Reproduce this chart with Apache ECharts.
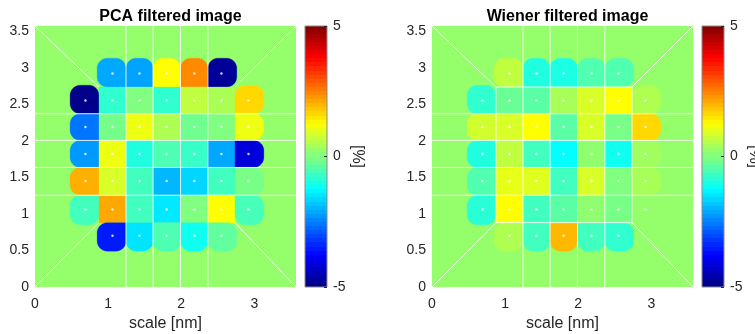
<!DOCTYPE html>
<html><head><meta charset="utf-8">
<script src="https://cdn.jsdelivr.net/npm/echarts@6/dist/echarts.min.js"></script>
<style>html,body{margin:0;padding:0;background:#fff}#c{width:755px;height:334px}</style>
</head><body><div id="c"></div>
<script>
// ---- data ----
const titles = ['PCA filtered image', 'Wiener filtered image'];
const xLabel = 'scale [nm]';
const cbarLabel = '[%]';
const xs = [0.69, 1.06, 1.43, 1.80, 2.18, 2.55, 2.92];          // cell centre x (left->right)
const ysTop = [2.92, 2.55, 2.19, 1.82, 1.45, 1.06, 0.70];       // cell centre y (top->bottom)
const axisMax = 3.57;
const cMin = -5, cMax = 5;
const backgroundValue = 0.2;
const pcaRows = [
  [null, -2.1, -2.15, 1.25, 2.4, -4.75, null],
  [-4.9, -0.78, 0.0, -0.78, 0.62, 0.42, 1.63],
  [-2.6, -0.1, 1.08, 0.45, -0.15, 0.0, 1.08],
  [-2.25, 1.08, -0.95, -0.5, -0.7, -2.1, -4.1],
  [2.03, 0.87, -0.62, -1.95, -1.65, -0.62, -0.07],
  [-0.6, 2.1, -0.62, -1.47, 0.0, 1.25, -0.55],
  [null, -3.5, -1.5, -0.5, -1.1, -0.3, null]
];
const wienerRows = [
  [null, 0.62, -0.95, -1.0, -0.47, -0.47, null],
  [-0.78, -0.22, -0.37, 0.4, 0.87, 1.25, 0.47],
  [0.8, 0.87, 1.25, -0.37, 0.87, -0.07, 1.63],
  [-0.95, 0.63, -0.62, -1.25, 0.16, -1.1, 0.32],
  [-0.47, 1.02, 0.95, -0.62, 0.87, 0.0, 0.4],
  [-0.85, 1.25, -0.62, -0.37, 0.16, -0.07, 0.2],
  [null, 0.47, -0.62, 1.95, -0.62, -0.78, null]
];

// ---- helpers (style) ----
function clamp01(a){ return Math.max(0, Math.min(1, a)); }
function jetRGB(t){
  t = clamp01(t);
  return [clamp01(1.5-Math.abs(4*t-3)), clamp01(1.5-Math.abs(4*t-2)), clamp01(1.5-Math.abs(4*t-1))];
}
function toCss(c){ return 'rgb(' + c.map(x=>Math.round(x*255)).join(',') + ')'; }
function jet(v){ return toCss(jetRGB((v - cMin)/(cMax - cMin))); }
function jetBarGradient(){
  const n = 64, stops = [];
  for (let i = 0; i < n; i++) {
    const col = toCss(jetRGB((i + 0.5)/n));
    stops.push({offset: i/n, color: col});
    stops.push({offset: (i+1)/n, color: col});
  }
  return {type:'linear', x:0, y:1, x2:0, y2:0, colorStops: stops};
}

const FONT = "'Liberation Sans', Arial, Helvetica, sans-serif";
const TXT = '#262626';
const EDGE = 0.21, RC = 0.14;

function cellSeries(rows, gi){
  const data = [];
  rows.forEach((row, r) => row.forEach((v, c) => { if (v !== null) data.push([xs[c], ysTop[r], v, c, r]); }));
  const has = (r, c) => r >= 0 && r < rows.length && c >= 0 && c < rows[r].length && rows[r][c] !== null;
  return {
    type: 'custom', xAxisIndex: gi, yAxisIndex: gi, clip: true, silent: true,
    encode: {x: 0, y: 1},
    data: data,
    renderItem: function(params, api){
      const cx = api.value(0), cy = api.value(1), v = api.value(2), c = api.value(3), r = api.value(4);
      const hL = has(r, c-1), hR = has(r, c+1), hU = has(r-1, c), hD = has(r+1, c);
      const lw = hL ? (cx - xs[c-1])/2 : EDGE, rw = hR ? (xs[c+1] - cx)/2 : EDGE;
      const uh = hU ? (ysTop[r-1] - cy)/2 : EDGE, dh = hD ? (cy - ysTop[r+1])/2 : EDGE;
      const corners = [
        [cx + rw, cy + uh, 1, 1, !(hR && hU)],
        [cx - lw, cy + uh, -1, 1, !(hL && hU)],
        [cx - lw, cy - dh, -1, -1, !(hL && hD)],
        [cx + rw, cy - dh, 1, -1, !(hR && hD)]
      ];
      const startAng = [0, Math.PI/2, Math.PI, 1.5*Math.PI];
      const pts = [];
      corners.forEach((k, idx) => {
        if (!k[4]) { pts.push(api.coord([k[0], k[1]])); return; }
        const ox = k[0] - k[2]*RC, oy = k[1] - k[3]*RC;
        for (let s = 0; s <= 14; s++) {
          const a = startAng[idx] + (Math.PI/2)*s/14;
          pts.push(api.coord([ox + RC*Math.cos(a), oy + RC*Math.sin(a)]));
        }
      });
      return {type: 'polygon', shape: {points: pts}, style: {fill: jet(v), stroke: jet(v), lineWidth: 0.3}};
    }
  };
}

function dotSeries(rows, gi){
  const data = [];
  rows.forEach((row, r) => row.forEach((v, c) => { if (v !== null) data.push([xs[c], ysTop[r]]); }));
  return {type: 'scatter', xAxisIndex: gi, yAxisIndex: gi, data: data, symbolSize: 2.5, silent: true,
          itemStyle: {color: '#ffffff'}, z: 4};
}

function meshSeries(gi, withInnerBox){
  const ysB = ysTop.slice().reverse();
  const mx = [], my = [];
  for (let i = 0; i < xs.length - 1; i++) { mx.push((xs[i] + xs[i+1])/2); my.push((ysB[i] + ysB[i+1])/2); }
  const segs = [];
  for (let i = 1; i < mx.length - 1; i++) {
    segs.push([mx[i], 0, mx[i], axisMax]);
    segs.push([0, my[i], axisMax, my[i]]);
  }
  const L = mx[0], Rr = mx[mx.length-1], B = my[0], T = my[my.length-1];
  segs.push([0, 0, L, B]);
  segs.push([0, axisMax, L, T]);
  segs.push([axisMax, axisMax, Rr, T]);
  segs.push([axisMax, 0, Rr, B]);
  if (withInnerBox) {
    segs.push([L, B, L, T]); segs.push([Rr, B, Rr, T]);
    segs.push([L, T, Rr, T]); segs.push([L, B, Rr, B]);
  }
  return {
    type: 'custom', xAxisIndex: gi, yAxisIndex: gi, clip: true, silent: true, z: 3,
    encode: {x: [0, 2], y: [1, 3]},
    data: segs,
    renderItem: function(params, api){
      const p1 = api.coord([api.value(0), api.value(1)]), p2 = api.coord([api.value(2), api.value(3)]);
      return {type: 'line', shape: {x1: p1[0], y1: p1[1], x2: p2[0], y2: p2[1]},
              style: {stroke: 'rgba(255,255,255,0.85)', lineWidth: 1}};
    }
  };
}

const plotLefts = [35, 432];
const cbarLefts = [305, 702];
const TOP = 26, SIZE = 261;

const grids = [], xAxes = [], yAxes = [], series = [], titleOpts = [];
plotLefts.forEach((l, i) => {
  grids.push({left: l, top: TOP, width: SIZE, height: SIZE, show: true, borderWidth: 0,
              outerBoundsMode: 'none', containLabel: false,
              backgroundColor: jet(backgroundValue)});
  xAxes.push({type: 'value', gridIndex: i, min: 0, max: axisMax, interval: 1,
              axisLine: {show: false}, axisTick: {show: false}, splitLine: {show: false},
              axisLabel: {color: TXT, fontSize: 14, fontFamily: FONT, margin: 10, showMaxLabel: false},
              name: xLabel, nameLocation: 'middle', nameGap: 27,
              nameTextStyle: {color: TXT, fontSize: 16, fontFamily: FONT}});
  yAxes.push({type: 'value', gridIndex: i, min: 0, max: axisMax, interval: 0.5,
              axisLine: {show: false}, axisTick: {show: false}, splitLine: {show: false},
              axisLabel: {color: TXT, fontSize: 14, fontFamily: FONT, margin: 6}});
  titleOpts.push({text: titles[i], left: l + SIZE/2, top: 4, textAlign: 'center',
                  textStyle: {fontFamily: FONT, fontSize: 16, fontWeight: 'bold', color: '#000'}});
});
cbarLefts.forEach((l, i) => {
  const gi = 2 + i;
  grids.push({left: l, top: TOP, width: 22, height: SIZE, show: true,
              outerBoundsMode: 'none', containLabel: false,
              backgroundColor: jetBarGradient(), borderColor: '#8a8a8a', borderWidth: 1});
  xAxes.push({type: 'value', gridIndex: gi, min: 0, max: 1, show: false});
  yAxes.push({type: 'value', gridIndex: gi, min: cMin, max: cMax, interval: 5, position: 'right',
              axisLine: {show: false, onZero: false}, splitLine: {show: false},
              axisTick: {show: true, inside: true, length: 3, lineStyle: {color: TXT}},
              axisLabel: {color: TXT, fontSize: 14, fontFamily: FONT, margin: 6},
              name: cbarLabel, nameLocation: 'middle', nameRotate: -90, nameGap: 22,
              nameTextStyle: {color: TXT, fontSize: 16, fontFamily: FONT}});
});

series.push(cellSeries(pcaRows, 0), meshSeries(0, false), dotSeries(pcaRows, 0));
series.push(cellSeries(wienerRows, 1), meshSeries(1, true), dotSeries(wienerRows, 1));

const chart = echarts.init(document.getElementById('c'), null, {renderer: 'canvas'});
chart.setOption({
  animation: false,
  backgroundColor: '#ffffff',
  title: titleOpts,
  grid: grids, xAxis: xAxes, yAxis: yAxes, series: series
});
</script></body></html>
